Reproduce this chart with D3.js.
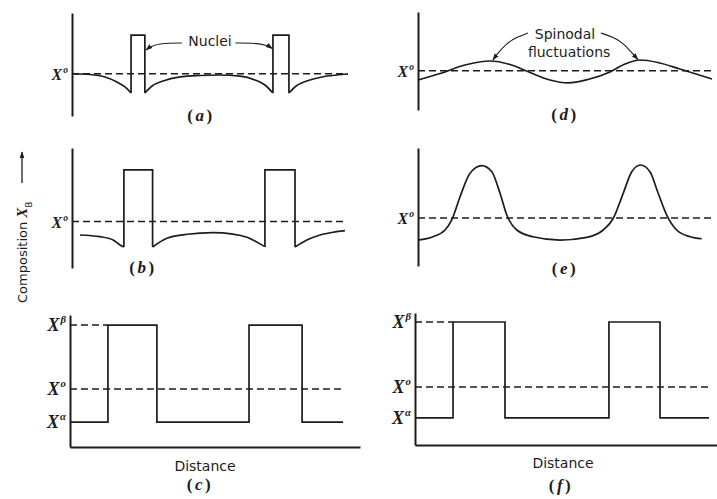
<!DOCTYPE html>
<html>
<head>
<meta charset="utf-8">
<script src="https://cdn.jsdelivr.net/npm/d3@7/dist/d3.min.js"></script>
<style>
  html, body { margin: 0; padding: 0; background: #fff; }
  svg { display: block; }
</style>
</head>
<body>
<svg id="fig" width="717" height="499"></svg>
<script>
// Composition profiles across a microstructure.
// Distance runs 0–100 along each panel, composition 0–100 up each axis.

// (a) early nucleation: solute-rich nuclei with depleted matrix around them
const aMean = 41;
const aMatrix = [
  [[0, 41], [6.5, 40.3], [12, 37.9], [16.3, 33], [19.2, 28.2], [21.4, 22.3]],
  [[26.4, 22.3], [29, 29.1], [33, 34], [39.1, 37.9], [46.4, 39.3], [53.6, 39.8], [60.9, 38.8], [66.3, 35], [69.9, 30.1], [72.8, 22.3]],
  [[78.6, 22.3], [81.2, 29.1], [85.1, 34], [90.6, 37.9], [96, 39.8], [100, 40.8]]
];
const aNuclei = [
  { x0: 21.4, x1: 26.4, top: 78.6, base: 22.3 },
  { x0: 72.8, x1: 78.6, top: 78.6, base: 22.3 }
];
const aNucleiArrows = [
  [[39.8, 70.9], [31.9, 70.7], [28.3, 67.3], [26.8, 64.1]],
  [[59.2, 70.9], [65.6, 70.9], [70.7, 68.9], [72.6, 65.5]]
];

// (b) growing precipitates
const bMean = 38.75;
const bMatrix = [
  [[2.9, 27.5], [10.1, 26.1], [14.9, 23.3], [17.4, 19.2], [18.8, 17.5]],
  [[29.2, 17.5], [34.4, 24.8], [41.7, 28.1], [51.1, 29.4], [58.3, 28.3], [63.4, 25.6], [67.4, 21.1], [69.9, 17.8]],
  [[80.8, 17.5], [85.1, 23.3], [89.9, 27.5], [94.6, 29.8], [98.9, 31.1]]
];
const bNuclei = [
  { x0: 18.8, x1: 29.2, top: 81.7, base: 17.5 },
  { x0: 69.9, x1: 80.8, top: 81.7, base: 17.6 }
];

// (c) final equilibrium: alpha matrix with beta precipitates (step points, value after x)
const cLevels = { beta: 92.4, mean: 43.9, alpha: 18.9 };
const cProfile = [[0, 18.9], [13.8, 92.4], [31.6, 18.9], [65.1, 92.4], [84.4, 18.9], [99.3, 18.9]];

// (d) early spinodal fluctuations
const dMean = 40;
const dProfile = [
  [0, 30.6], [7.5, 37.2], [16, 45.9], [24.5, 50], [31.3, 46.4], [38.1, 38.3], [44.9, 30.6],
  [51, 27.6], [57.8, 31.1], [65.3, 38.8], [70.4, 46.9], [75.5, 51], [81.6, 48.5], [89.1, 41.8], [100, 31.6]
];
const dArrows = [
  [[37.4, 78.6], [33.7, 74.5], [30.3, 68.4], [27.2, 58.2], [25.5, 51]],
  [[62.2, 78.6], [66.3, 74.5], [69.7, 68.4], [72.8, 58.2], [74.8, 51.5]]
];

// (e) amplified fluctuations
const eMean = 40.7;
const eProfile = [
  [0, 22], [5.1, 24.8], [9.2, 30.5], [11.6, 39.8], [14.3, 58.7], [17.7, 78.6], [21.7, 85],
  [25.1, 79.9], [27.9, 61.6], [30.2, 43.2], [33.6, 30.5], [39.1, 24.8], [48.3, 22],
  [57.4, 24.3], [63, 30.5], [66.3, 39.8], [69.8, 61.6], [72.7, 79.9], [75.7, 85.6],
  [78.9, 79.9], [81.7, 61.6], [84.6, 43.2], [88, 30.5], [92.5, 24.8], [96.5, 23.1]
];

// (f) final two-phase structure
const fLevels = { beta: 93.2, mean: 43.9, alpha: 20.5 };
const fProfile = [[0, 20.5], [12.8, 93.2], [30.3, 20.5], [65.3, 93.2], [82.5, 20.5], [99, 20.5]];

// ---------------------------------------------------------------
const ink = "#1c1c1c";
const svg = d3.select("#fig");

const defs = svg.append("defs");
defs.append("marker")
  .attr("id", "head").attr("viewBox", "0 0 10 10")
  .attr("refX", 9).attr("refY", 5)
  .attr("markerWidth", 7).attr("markerHeight", 7)
  .attr("markerUnits", "userSpaceOnUse")
  .attr("orient", "auto")
  .append("path").attr("d", "M0,1.5L10,5L0,8.5Z").attr("fill", ink);

function makePanel(f) {
  const x = d3.scaleLinear().domain([0, 100]).range([f.left, f.right]);
  const y = d3.scaleLinear().domain([0, 100]).range([f.bottom, f.top]);
  const g = svg.append("g");
  // vertical composition axis
  g.append("g")
    .attr("transform", `translate(${f.left},0)`)
    .call(d3.axisLeft(y).tickValues([]).tickSizeOuter(0))
    .call(s => s.select(".domain").attr("stroke", ink).attr("stroke-width", 2));
  if (f.axisEnd) {
    const xa = x.copy().domain([0, x.invert(f.axisEnd)]).range([f.left, f.axisEnd]);
    g.append("g")
      .attr("transform", `translate(0,${f.bottom})`)
      .call(d3.axisBottom(xa).tickValues([]).tickSizeOuter(0))
      .call(s => s.select(".domain").attr("stroke", ink).attr("stroke-width", 2));
  }
  return { g, x, y, f };
}

const smooth = (p) => d3.line().x(d => p.x(d[0])).y(d => p.y(d[1])).curve(d3.curveMonotoneX);
const straight = (p) => d3.line().x(d => p.x(d[0])).y(d => p.y(d[1]));
const steps = (p) => d3.line().x(d => p.x(d[0])).y(d => p.y(d[1])).curve(d3.curveStepAfter);
const bendy = (p) => d3.line().x(d => p.x(d[0])).y(d => p.y(d[1])).curve(d3.curveBasis);

function drawLine(p, data, gen, width) {
  p.g.append("path").datum(data)
    .attr("d", gen(p))
    .attr("fill", "none").attr("stroke", ink)
    .attr("stroke-width", width || 1.7)
    .attr("stroke-linejoin", "miter").attr("stroke-linecap", "butt");
}

function dashed(p, level, x0, x1) {
  p.g.append("line")
    .attr("x1", p.x(x0)).attr("x2", p.x(x1))
    .attr("y1", p.y(level)).attr("y2", p.y(level))
    .attr("stroke", ink).attr("stroke-width", 1.5)
    .attr("stroke-dasharray", "7,4");
}

function levelLabel(p, level, sup, size) {
  const t = p.g.append("text")
    .attr("x", p.f.left - 4)
    .attr("y", p.y(level) + 6)
    .attr("text-anchor", "end")
    .attr("font-family", "'Liberation Serif', serif")
    .attr("font-style", "italic").attr("font-weight", "bold")
    .attr("font-size", size).attr("fill", ink);
  t.append("tspan").text("X");
  t.append("tspan").attr("dx", 1).attr("dy", -size * 0.42)
    .attr("font-size", size * 0.6).text(sup);
}

function panelTag(xc, yb, letter) {
  const t = svg.append("text")
    .attr("x", xc).attr("y", yb)
    .attr("text-anchor", "middle")
    .attr("font-family", "'Liberation Serif', serif")
    .attr("font-size", 17).attr("font-weight", "bold")
    .attr("letter-spacing", 2.5).attr("fill", ink);
  t.append("tspan").text("(");
  t.append("tspan").attr("font-style", "italic").text(letter);
  t.append("tspan").text(")");
}

function nucleus(n) { return [[n.x0, n.base], [n.x0, n.top], [n.x1, n.top], [n.x1, n.base]]; }

const sans = "'DejaVu Sans', sans-serif";

// ---- (a)
const pa = makePanel({ left: 72, right: 348, top: 13, bottom: 116 });
dashed(pa, aMean, 0, 100);
aMatrix.forEach(seg => drawLine(pa, seg, smooth));
aNuclei.forEach(n => drawLine(pa, nucleus(n), straight));
levelLabel(pa, aMean, "o", 16);
aNucleiArrows.forEach(a => pa.g.append("path").datum(a)
  .attr("d", bendy(pa)).attr("fill", "none").attr("stroke", ink)
  .attr("stroke-width", 1.1).attr("marker-end", "url(#head)"));
pa.g.append("text").attr("x", pa.x(50)).attr("y", pa.y(67.5))
  .attr("text-anchor", "middle").attr("font-family", sans)
  .attr("font-size", 14).attr("fill", ink).text("Nuclei");
panelTag(201, 121, "a");

// ---- (b)
const pb = makePanel({ left: 72, right: 348, top: 148, bottom: 268 });
dashed(pb, bMean, 0, 99);
bMatrix.forEach(seg => drawLine(pb, seg, smooth));
bNuclei.forEach(n => drawLine(pb, nucleus(n), straight));
levelLabel(pb, bMean, "o", 16);
panelTag(143, 273, "b");

// ---- (c)
const pc = makePanel({ left: 70, right: 345, top: 315, bottom: 447, axisEnd: 360 });
dashed(pc, cLevels.beta, 0, cProfile[1][0]);
dashed(pc, cLevels.mean, 0, 100);
drawLine(pc, cProfile, steps);
levelLabel(pc, cLevels.beta, "β", 18);
levelLabel(pc, cLevels.mean, "o", 18);
levelLabel(pc, cLevels.alpha, "α", 18);
svg.append("text").attr("x", 205).attr("y", 471).attr("text-anchor", "middle")
  .attr("font-family", sans).attr("font-size", 14).attr("fill", ink).text("Distance");
panelTag(200, 490, "c");

// ---- (d)
const pd = makePanel({ left: 418, right: 712, top: 12, bottom: 110 });
dashed(pd, dMean, 0, 100);
drawLine(pd, dProfile, smooth);
levelLabel(pd, dMean, "o", 16);
dArrows.forEach(a => pd.g.append("path").datum(a)
  .attr("d", bendy(pd)).attr("fill", "none").attr("stroke", ink)
  .attr("stroke-width", 1.1).attr("marker-end", "url(#head)"));
pd.g.append("text").attr("x", pd.x(50)).attr("y", pd.y(72.4))
  .attr("text-anchor", "middle").attr("font-family", sans)
  .attr("font-size", 14).attr("fill", ink).text("Spinodal");
pd.g.append("text").attr("x", pd.x(51.4)).attr("y", pd.y(54.1))
  .attr("text-anchor", "middle").attr("font-family", sans)
  .attr("font-size", 14).attr("fill", ink).text("fluctuations");
panelTag(565, 120, "d");

// ---- (e)
const pe = makePanel({ left: 418, right: 712, top: 148, bottom: 266 });
dashed(pe, eMean, 0, 100);
drawLine(pe, eProfile, smooth);
levelLabel(pe, eMean, "o", 16);
panelTag(565, 274, "e");

// ---- (f)
const pf = makePanel({ left: 415, right: 712, top: 313, bottom: 445, axisEnd: 717 });
dashed(pf, fLevels.beta, 0, fProfile[1][0]);
dashed(pf, fLevels.mean, 0, 100);
drawLine(pf, fProfile, steps);
levelLabel(pf, fLevels.beta, "β", 18);
levelLabel(pf, fLevels.mean, "o", 18);
levelLabel(pf, fLevels.alpha, "α", 18);
svg.append("text").attr("x", 563).attr("y", 468).attr("text-anchor", "middle")
  .attr("font-family", sans).attr("font-size", 14).attr("fill", ink).text("Distance");
panelTag(561, 491, "f");

// ---- shared composition label
const yl = svg.append("text")
  .attr("transform", "translate(27,303) rotate(-90)")
  .attr("font-family", sans).attr("font-size", 13).attr("fill", ink);
yl.append("tspan").text("Composition ");
yl.append("tspan").attr("font-family", "'Liberation Serif', serif")
  .attr("font-style", "italic").attr("font-weight", "bold").attr("font-size", 15).text("X");
yl.append("tspan").attr("dy", 5).attr("font-size", 9).text("B");
svg.append("line").attr("x1", 22).attr("x2", 22).attr("y1", 183).attr("y2", 152)
  .attr("stroke", ink).attr("stroke-width", 1.3).attr("marker-end", "url(#head)");
</script>
</body>
</html>
